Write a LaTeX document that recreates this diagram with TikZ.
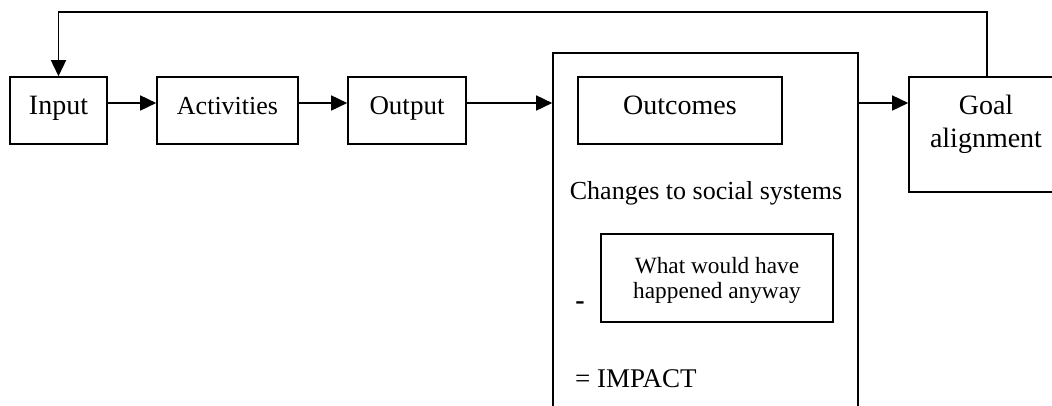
\documentclass[tikz,border=0pt]{standalone}
\usepackage{fontspec}
\setmainfont{Liberation Serif}
\usetikzlibrary{arrows.meta}
\begin{document}
\begin{tikzpicture}[x=1pt,y=-1pt,
  box/.style={draw, line width=1.6pt, inner sep=0pt, font=\fontsize{28}{32}\selectfont, text height=14pt, text depth=7pt},
  lbl/.style={inner sep=0pt, anchor=base, font=\fontsize{28}{32}\selectfont},
  arr/.style={-{Triangle[length=16pt,width=15pt]}, line width=1.6pt}]
\clip (0,0) rectangle (1052,405);
\node[box, minimum width=97pt, minimum height=67pt] (input) at (58.5,110.5) {Input};
\node[box, minimum width=141pt, minimum height=67pt, font=\fontsize{26}{30}\selectfont] (activities) at (227.5,110.5) {Activities};
\node[box, minimum width=118pt, minimum height=67pt, font=\fontsize{27}{30}\selectfont] (output) at (407,110.5) {Output};
\node[box, minimum width=305pt, minimum height=372pt] (big) at (705.5,239) {};
\node[box, minimum width=204pt, minimum height=67pt] (outcomes) at (680,110.5) {};
\node[lbl] (outtext) at (680,114) {Outcomes};
\node[lbl, font=\fontsize{26}{30}\selectfont] (changes) at (706,199) {Changes to social systems};
\node[box, minimum width=232pt, minimum height=88pt] (anyway) at (717,278) {};
\node[lbl, font=\fontsize{23.3}{26}\selectfont] (any1) at (717,273) {What would have};
\node[lbl, font=\fontsize{23.3}{26}\selectfont] (any2) at (717,298) {happened anyway};
\node[lbl, font=\fontsize{28}{32}\selectfont\bfseries] (minus) at (580,309) {-};
\node[lbl, anchor=base west, font=\fontsize{27}{30}\selectfont] (impact) at (575,387) {= IMPACT};
\node[box, minimum width=156pt, minimum height=115pt] (goal) at (987,134.5) {};
\node[lbl] (goal1) at (986,114) {Goal};
\node[lbl] (goal2) at (986,147) {alignment};
\draw[arr] (input.east |- 0,103) -- (activities.west |- 0,103);
\draw[arr] (activities.east |- 0,103) -- (output.west |- 0,103);
\draw[arr] (output.east |- 0,103) -- (big.west |- 0,103);
\draw[arr] (big.east |- 0,103) -- (goal.west |- 0,103);
\draw[arr] (goal.north) -- ++(0,-64) -| (input.north);
\end{tikzpicture}
\end{document}
